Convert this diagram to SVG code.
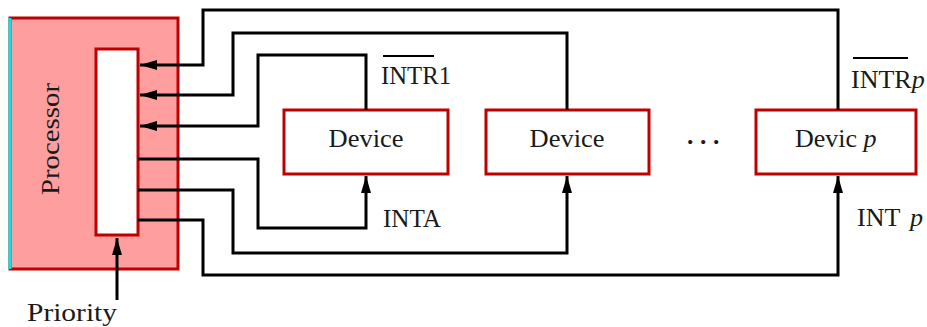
<svg xmlns="http://www.w3.org/2000/svg" width="927" height="327" viewBox="0 0 927 327">
<style>
.box{fill:#fff;stroke:#c00000;stroke-width:3}
.w{fill:none;stroke:#000;stroke-width:3}
.t{font-family:"Liberation Serif","DejaVu Serif",serif;font-size:26px;fill:#1a1a1a}
</style>
<defs>
<marker id="ah" markerWidth="17" markerHeight="10" refX="17" refY="5" orient="auto" markerUnits="userSpaceOnUse">
<path d="M0,0 L17,5 L0,10 Z" fill="#000"/>
</marker>
</defs>
<g id="processor">
<rect x="10" y="18" width="168" height="251" fill="#ff9e9e" stroke="#c00000" stroke-width="3"/>
<line x1="10" y1="18" x2="10" y2="269" stroke="#00e5ee" stroke-width="3"/>
<rect class="box" x="96" y="49" width="42" height="186"/>
<text class="t" x="50" y="139" text-anchor="middle" transform="rotate(-90 50 139)" dominant-baseline="central" font-size="28" textLength="112" lengthAdjust="spacingAndGlyphs">Processor</text>
</g>
<g id="device1">
<rect class="box" x="284" y="110" width="164" height="64"/>
<text class="t" x="366" y="147" text-anchor="middle" textLength="75" lengthAdjust="spacingAndGlyphs">Device</text>
</g>
<g id="device2">
<rect class="box" x="486" y="110" width="163" height="64"/>
<text class="t" x="567" y="147" text-anchor="middle" textLength="75" lengthAdjust="spacingAndGlyphs">Device</text>
</g>
<g id="devicep">
<rect class="box" x="756" y="110" width="160" height="64"/>
<text class="t" x="795" y="147">Devic <tspan font-style="italic">p</tspan></text>
</g>
<g id="ellipsis">
<text class="t" x="703" y="150" text-anchor="middle" font-size="32" font-weight="bold" font-style="italic">· · ·</text>
</g>
<g id="connectors">
<path class="w" d="M838,110 V10 H203 V65 H140" marker-end="url(#ah)"/>
<path class="w" d="M567,110 V33 H233 V95 H140" marker-end="url(#ah)"/>
<path class="w" d="M366,110 V55 H258 V126 H140" marker-end="url(#ah)"/>
<path class="w" d="M138,159 H258 V228 H366 V176" marker-end="url(#ah)"/>
<path class="w" d="M138,190 H233 V253 H567 V176" marker-end="url(#ah)"/>
<path class="w" d="M138,220 H203 V275 H838 V176" marker-end="url(#ah)"/>
<path class="w" d="M117,300 V238" marker-end="url(#ah)"/>
</g>
<g id="labels">
<text class="t" x="381" y="84" textLength="70" lengthAdjust="spacingAndGlyphs">INTR1</text>
<line x1="383" y1="56" x2="434" y2="56" stroke="#000" stroke-width="2"/>
<text class="t" x="383" y="227" textLength="58" lengthAdjust="spacingAndGlyphs">INTA</text>
<text class="t" x="851" y="88">INTR<tspan font-style="italic">p</tspan></text>
<line x1="853" y1="58" x2="908" y2="58" stroke="#000" stroke-width="2"/>
<text class="t" x="857" y="226">INT</text>
<text class="t" x="910" y="226" font-style="italic">p</text>
<text class="t" x="27" y="321" textLength="90" lengthAdjust="spacingAndGlyphs">Priority</text>
</g>
</svg>
